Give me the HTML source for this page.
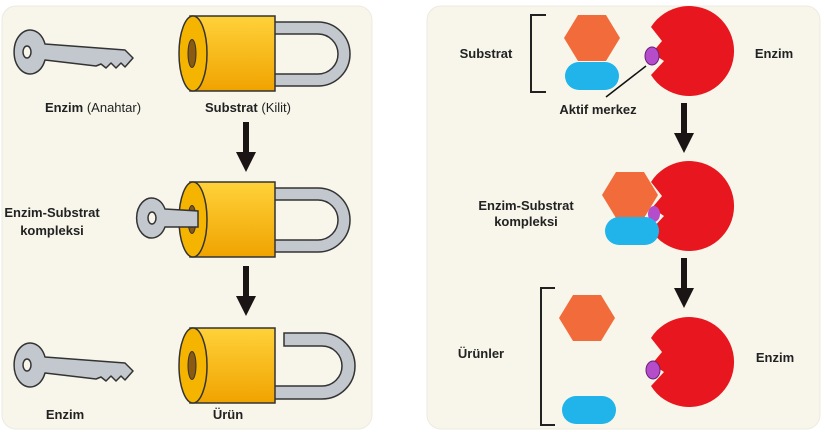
<!DOCTYPE html>
<html><head><meta charset="utf-8"><style>
body{margin:0;background:#fff;}
svg{display:block;font-family:"Liberation Sans",Arial,sans-serif;font-weight:bold;}
</style></head><body>
<svg width="825" height="432" viewBox="0 0 825 432" xmlns="http://www.w3.org/2000/svg">
<defs>
<linearGradient id="gold" x1="0" y1="0" x2="0" y2="1"><stop offset="0" stop-color="#ffd23a"/><stop offset="1" stop-color="#f0a300"/></linearGradient>
<g id="key">
<path d="M45 14 L125 20 L133 28 L125 37 L121 33 L116 38 L111 33 L106 38 L101 34 L96 36 L45 30 A16 22 0 1 1 45 14 Z" fill="#c3c8cf" stroke="#333" stroke-width="1.5" stroke-linejoin="round"/>
<ellipse cx="27" cy="22" rx="4" ry="6" fill="#f8f6ea" stroke="#333" stroke-width="1.5"/>
</g>
<g id="cyl">
<rect x="190" y="0" width="85" height="75" fill="url(#gold)" stroke="#333" stroke-width="1.5"/>
<ellipse cx="193" cy="37.5" rx="14" ry="37.5" fill="#f5b400" stroke="#333" stroke-width="1.5"/>
<ellipse cx="192" cy="37.5" rx="4" ry="14" fill="#8a5a10" stroke="#333"/>
</g>
<g id="arrow"><rect x="-3" y="0" width="6" height="34" fill="#1a1414"/><polygon points="-10,30 10,30 0,50" fill="#1a1414"/></g>
<g id="enz"><path d="M-37 -24 A45 45 0 1 1 -37 24 L-24 10 L-36 2 L-26 -10 Z" fill="#e8171f"/></g>
<polygon id="hex" points="-14,-23 14,-23 28,0 14,23 -14,23 -28,0" fill="#f26b3a"/>
<rect id="pill" x="-27" y="-14" width="54" height="28" rx="14" fill="#20b4ea"/>
</defs>
<rect x="2" y="6" width="370" height="423" rx="14" fill="#f8f6ea" stroke="#ecebe0"/>
<rect x="427" y="6" width="393" height="423" rx="14" fill="#f8f6ea" stroke="#ecebe0"/>

<!-- left panel -->
<use href="#key" x="0" y="30"/>
<path d="M273 22 H318 a32 32 0 0 1 0 64 H273 V74 H318 a20 20 0 0 0 0 -40 H273z" fill="#c3c8cf" stroke="#333" stroke-width="1.5"/>
<use href="#cyl" x="0" y="16"/>
<text x="93" y="112" font-size="13" text-anchor="middle" fill="#222">Enzim <tspan font-weight="normal">(Anahtar)</tspan></text>
<text x="248" y="112" font-size="13" text-anchor="middle" fill="#222">Substrat <tspan font-weight="normal">(Kilit)</tspan></text>
<use href="#arrow" x="246" y="122"/>

<path d="M273 188 H318 a32 32 0 0 1 0 64 H273 V240 H318 a20 20 0 0 0 0 -40 H273z" fill="#c3c8cf" stroke="#333" stroke-width="1.5"/>
<use href="#cyl" x="0" y="182"/>
<path d="M165 209 L198 211 L198 227 L165 227 A15 20 0 1 1 165 209 Z" fill="#c3c8cf" stroke="#333" stroke-width="1.5"/>
<ellipse cx="152" cy="218" rx="4" ry="6" fill="#f8f6ea" stroke="#333" stroke-width="1.5"/>
<text x="52" y="217" font-size="13" text-anchor="middle" fill="#222">Enzim-Substrat</text>
<text x="52" y="235" font-size="13" text-anchor="middle" fill="#222">kompleksi</text>
<use href="#arrow" x="246" y="266"/>

<use href="#key" x="0" y="343"/>
<path d="M284 333 H322 a33 33 0 0 1 0 66 H273 V386 H322 a20 20 0 0 0 0 -40 H284z" fill="#c3c8cf" stroke="#333" stroke-width="1.5"/>
<use href="#cyl" x="0" y="328"/>
<text x="65" y="419" font-size="13" text-anchor="middle" fill="#222">Enzim</text>
<text x="228" y="419" font-size="13" text-anchor="middle" fill="#222">Ürün</text>

<!-- right panel -->
<path d="M546 15 H531 V92 H546" fill="none" stroke="#222" stroke-width="2"/>
<text x="486" y="58" font-size="13" text-anchor="middle" fill="#222">Substrat</text>
<use href="#hex" x="592" y="38"/>
<use href="#pill" x="592" y="76"/>
<use href="#enz" x="688" y="51"/>
<ellipse cx="652" cy="56" rx="7" ry="9" fill="#b54cc9" stroke="#6a1f78"/>
<line x1="646" y1="66" x2="606" y2="97" stroke="#111" stroke-width="1.5"/>
<text x="598" y="114" font-size="13" text-anchor="middle" fill="#222">Aktif merkez</text>
<text x="774" y="58" font-size="13" text-anchor="middle" fill="#222">Enzim</text>
<use href="#arrow" x="684" y="103"/>

<use href="#enz" x="688" y="206"/>
<ellipse cx="654" cy="214" rx="6" ry="8" fill="#b54cc9"/>
<use href="#hex" x="630" y="195"/>
<use href="#pill" x="632" y="231"/>
<text x="526" y="210" font-size="13" text-anchor="middle" fill="#222">Enzim-Substrat</text>
<text x="526" y="226" font-size="13" text-anchor="middle" fill="#222">kompleksi</text>
<use href="#arrow" x="684" y="258"/>

<path d="M555 288 H541 V425 H555" fill="none" stroke="#222" stroke-width="2"/>
<text x="481" y="358" font-size="13" text-anchor="middle" fill="#222">Ürünler</text>
<use href="#hex" x="587" y="318"/>
<use href="#pill" x="589" y="410"/>
<use href="#enz" x="688" y="362"/>
<ellipse cx="653" cy="370" rx="7" ry="9" fill="#b54cc9" stroke="#6a1f78"/>
<text x="775" y="362" font-size="13" text-anchor="middle" fill="#222">Enzim</text>
</svg>
</body></html>
